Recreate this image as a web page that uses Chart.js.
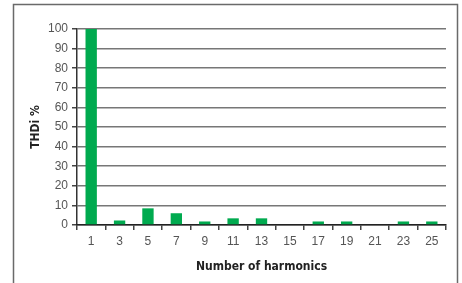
<!DOCTYPE html>
<html><head><meta charset="utf-8">
<script src="https://cdn.jsdelivr.net/npm/chart.js@4"></script>
<style>html,body{margin:0;padding:0;background:#fff}#wrap{width:462px;height:283px;position:relative}</style>
</head><body><div id="wrap"><canvas id="c" width="462" height="283"></canvas></div>
<script>
const categories = ['1','3','5','7','9','11','13','15','17','19','21','23','25'];
const thdiValues = [100, 2.3, 8.5, 6, 1.8, 3.4, 3.4, 0, 1.8, 1.8, 0, 1.8, 1.8];
const yTicks = [0,10,20,30,40,50,60,70,80,90,100];

const framePlugin = {
  id: 'frame',
  beforeDraw(chart) {
    const ctx = chart.ctx;
    ctx.save();
    ctx.strokeStyle = '#6a6a6a';
    ctx.lineWidth = 1.5;
    ctx.beginPath();
    ctx.moveTo(13.5, 283);
    ctx.lineTo(13.5, 4.5);
    ctx.lineTo(457.5, 4.5);
    ctx.lineTo(457.5, 283);
    ctx.stroke();
    ctx.restore();
  }
};

const titleFamily = "'DejaVu Sans Condensed', 'DejaVu Sans', sans-serif";

new Chart(document.getElementById('c'), {
  type: 'bar',
  data: {
    labels: categories,
    datasets: [{
      data: thdiValues,
      backgroundColor: '#00aa4f',
      borderWidth: 0,
      categoryPercentage: 1,
      barPercentage: 0.4
    }]
  },
  options: {
    responsive: false,
    animation: false,
    plugins: { legend: { display: false }, tooltip: { enabled: false } },
    layout: { padding: { left: 20, top: 29, right: 16, bottom: 0 } },
    scales: {
      y: {
        min: 0, max: 100,
        afterBuildTicks(axis) { axis.ticks = yTicks.map(v => ({ value: v })); },
        afterFit(axis) { axis.width = 57; },
        ticks: { color: '#555', font: { family: 'Liberation Sans', size: 12 }, padding: 4 },
        grid: { color: '#777', lineWidth: 1.5, tickLength: 5, tickColor: '#444' },
        border: { color: '#333', width: 1.5 },
        title: { display: true, text: 'THDi %', color: '#222', font: { family: titleFamily, size: 12, weight: 'bold' }, padding: { top: 9, bottom: 4 } }
      },
      x: {
        offset: true,
        afterFit(axis) { axis.height = 58; },
        ticks: { color: '#555', font: { family: 'Liberation Sans', size: 12 }, padding: 4 },
        grid: { offset: true, drawOnChartArea: false, tickLength: 5, color: '#444', lineWidth: 1.5 },
        border: { color: '#222', width: 1.5 },
        title: { display: true, text: 'Number of harmonics', color: '#222', font: { family: titleFamily, size: 12, weight: 'bold' }, padding: { top: 6, bottom: 9 } }
      }
    }
  },
  plugins: [framePlugin]
});
</script>
</body></html>
